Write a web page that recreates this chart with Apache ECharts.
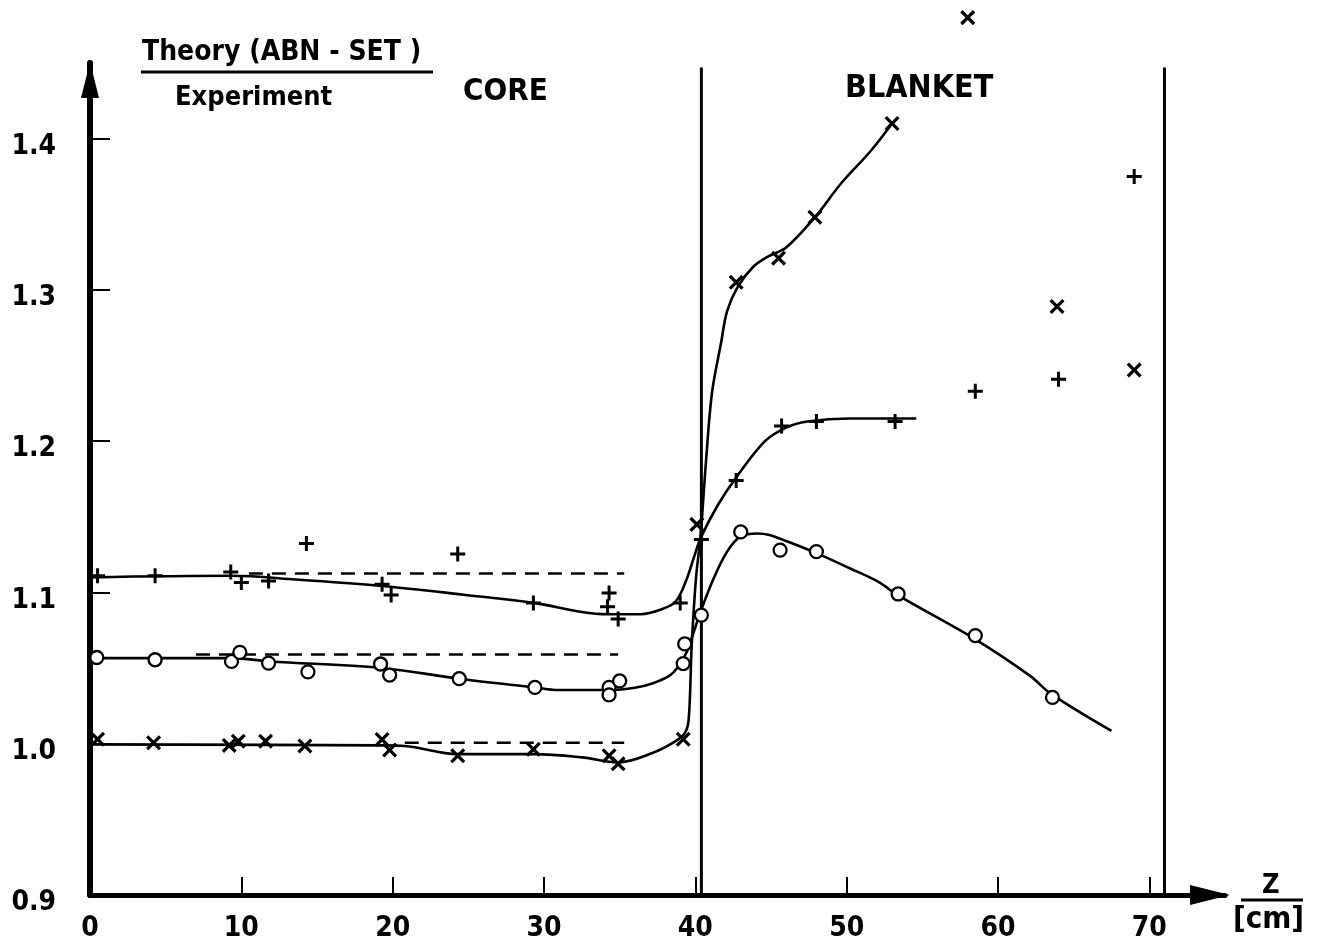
<!DOCTYPE html>
<html><head><meta charset="utf-8">
<script src="https://cdn.jsdelivr.net/npm/echarts@6/dist/echarts.min.js"></script>
<style>html,body{margin:0;padding:0;background:#fff}#c{width:1319px;height:943px}</style>
</head><body><div id="c"></div>
<script>
// ---- axes ----
const xTicks = [0, 10, 20, 30, 40, 50, 60, 70];
const xTickLabels = ['0', '10', '20', '30', '40', '50', '60', '70'];
const yTicks = [0.9, 1.0, 1.1, 1.2, 1.3, 1.4];
const yTickLabels = ['0.9', '1.0', '1.1', '1.2', '1.3', '1.4'];
const boundaries = [40.4, 71];

// ---- measured points: "+" ----
const plusX = [0.5, 4.3, 9.3, 10.0, 11.8, 14.3, 19.3, 19.9, 24.3, 29.3, 34.3, 34.2, 34.9, 39.0, 40.4, 42.7, 45.7, 48.0, 53.2, 58.5, 64.0, 69.0];
const plusY = [1.111, 1.111, 1.1135, 1.1065, 1.1075, 1.1323, 1.1054, 1.0983, 1.1254, 1.0931, 1.0996, 1.0905, 1.0824, 1.093, 1.135, 1.174, 1.210, 1.213, 1.213, 1.233, 1.241, 1.375];
// ---- measured points: "x" ----
const crossX = [0.5, 4.2, 9.2, 9.8, 11.6, 14.2, 19.3, 19.8, 24.3, 29.3, 34.3, 34.9, 39.2, 40.1, 42.7, 45.5, 47.9, 53.0, 58.0, 63.9, 69.0];
const crossY = [1.003, 1.0006, 0.9989, 1.0017, 1.0017, 0.9985, 1.0028, 0.9959, 0.992, 0.9963, 0.992, 0.9867, 1.003, 1.145, 1.305, 1.321, 1.348, 1.410, 1.480, 1.289, 1.247];
// ---- measured points: "o" ----
const circX = [0.45, 4.3, 9.35, 9.9, 11.8, 14.4, 19.2, 19.8, 24.4, 29.4, 34.3, 34.3, 35.0, 39.2, 39.3, 40.4, 43.0, 45.6, 48.0, 53.4, 58.5, 63.6];
const circY = [1.057, 1.0555, 1.0544, 1.0604, 1.0533, 1.0475, 1.0527, 1.0454, 1.043, 1.0372, 1.0372, 1.0323, 1.0415, 1.053, 1.066, 1.085, 1.140, 1.128, 1.127, 1.099, 1.0715, 1.0306];

// ---- fitted curves ----
const plusCurveX = [0, 9.3, 13.6, 19.3, 24.7, 29.3, 32.5, 34.2, 36.4, 37.8, 38.7, 39.4, 39.9, 40.35, 41.5, 42.7, 44.6, 46.0, 47.4, 50.2, 54.6];
const plusCurveY = [1.110, 1.111, 1.1086, 1.1043, 1.0985, 1.0931, 1.0871, 1.0856, 1.0856, 1.089, 1.094, 1.108, 1.123, 1.136, 1.158, 1.176, 1.200, 1.209, 1.213, 1.215, 1.215];
const circCurveX = [0, 9.35, 11.9, 19.2, 24.4, 29.4, 30.9, 34.3, 36.0, 37.2, 38.3, 38.8, 39.4, 39.9, 40.3, 41.2, 42.1, 43.0, 44.1, 44.9, 46.0, 48.0, 50.2, 52.1, 53.4, 58.5, 62.1, 63.5, 67.5];
const circCurveY = [1.0566, 1.0566, 1.0544, 1.0501, 1.043, 1.0372, 1.0355, 1.0355, 1.037, 1.040, 1.045, 1.050, 1.060, 1.074, 1.086, 1.109, 1.127, 1.137, 1.139, 1.138, 1.134, 1.126, 1.116, 1.107, 1.098, 1.069, 1.045, 1.033, 1.0085];
const crossCurveX = [0, 19.3, 20.8, 24.3, 29.3, 32.5, 34.9, 37.2, 38.7, 39.3, 39.56, 39.76, 40.04, 40.35, 40.7, 41.1, 41.7, 42.1, 42.8, 43.8, 44.8, 46.0, 47.9, 49.6, 51.6, 53.0];
const crossCurveY = [0.9996, 0.9989, 0.9985, 0.9931, 0.9931, 0.991, 0.9877, 0.994, 1.0017, 1.007, 1.016, 1.065, 1.109, 1.138, 1.186, 1.232, 1.265, 1.286, 1.302, 1.315, 1.322, 1.328, 1.348, 1.370, 1.392, 1.410];

// ---- dashed reference lines ----
const plusDashX = [10.5, 35.3];  const plusDashY = [1.1125, 1.1125];
const circDashX = [7.0, 34.9];   const circDashY = [1.059, 1.059];
const crossDashX = [20.8, 35.3]; const crossDashY = [1.0006, 1.0006];

const FONT = "'DejaVu Sans Condensed', 'DejaVu Sans', sans-serif";
const pair = (xs, ys) => xs.map((x, i) => [x, ys[i]]);
const PLUS = 'path://M4,0H6V4H10V6H6V10H4V6H0V4H4Z';
const CROSS = 'path://M4.1,0H5.9V4.1H10V5.9H5.9V10H4.1V5.9H0V4.1H4.1Z';
const ARROW = 'path://M5,0L10,20L0,20Z';

const chart = echarts.init(document.getElementById('c'), null, {renderer: 'canvas'});

const curveStyle = {color: '#000', width: 2.6};
const boundarySeries = boundaries.map(b => ({
  type: 'line', data: [[b, 0.9], [b, 1.447]], showSymbol: false, silent: true, z: 1,
  lineStyle: {color: '#000', width: 3}
}));

chart.setOption({
  animation: false,
  backgroundColor: '#fff',
  grid: {left: 90, right: 94, top: 63, bottom: 48},
  xAxis: {
    type: 'value', min: 0, max: 75,
    splitLine: {show: false},
    axisLine: {show: true, lineStyle: {color: '#000', width: 5},
      symbol: ['none', ARROW], symbolSize: [25, 40], symbolOffset: [0, -15]},
    axisTick: {show: true, inside: true, length: 18, lineStyle: {color: '#000', width: 2}, customValues: xTicks},
    axisLabel: {customValues: xTicks, margin: 20, color: '#000', fontFamily: FONT, fontWeight: 'bold', fontSize: 28,
      formatter: v => xTickLabels[xTicks.indexOf(v)]}
  },
  yAxis: {
    type: 'value', min: 0.9, max: 1.45,
    splitLine: {show: false},
    axisLine: {show: true, lineStyle: {color: '#000', width: 6},
      symbol: ['none', ARROW], symbolSize: [18, 40], symbolOffset: [0, -17]},
    axisTick: {show: true, inside: true, length: 20, lineStyle: {color: '#000', width: 2}, customValues: yTicks},
    axisLabel: {customValues: yTicks, margin: 34, color: '#000', fontFamily: FONT, fontWeight: 'bold', fontSize: 28,
      verticalAlign: 'top', lineHeight: 16,
      formatter: v => yTickLabels[yTicks.findIndex(t => Math.abs(t - v) < 1e-9)]}
  },
  graphic: [
    {type: 'text', left: 142, top: 39, style: {text: 'Theory (ABN - SET )', font: "bold 28px " + FONT, fill: '#000'}},
    {type: 'line', shape: {x1: 141, y1: 72, x2: 433, y2: 72}, style: {stroke: '#000', lineWidth: 3}},
    {type: 'text', left: 175, top: 84, style: {text: 'Experiment', font: "bold 27px " + FONT, fill: '#000'}},
    {type: 'text', left: 463, top: 76, style: {text: 'CORE', font: "bold 31px " + FONT, fill: '#000'}},
    {type: 'text', left: 845, top: 73, style: {text: 'BLANKET', font: "bold 32px " + FONT, fill: '#000'}},
    {type: 'text', left: 1262, top: 872, style: {text: 'Z', font: "bold 27px " + FONT, fill: '#000'}},
    {type: 'line', shape: {x1: 1241, y1: 900, x2: 1303, y2: 900}, style: {stroke: '#000', lineWidth: 3}},
    {type: 'text', left: 1233, top: 904, style: {text: '[cm]', font: "bold 31px " + FONT, fill: '#000'}}
  ],
  series: [
    ...boundarySeries,
    {type: 'line', data: pair(plusCurveX, plusCurveY), showSymbol: false, smooth: 0.35, lineStyle: curveStyle, z: 2},
    {type: 'line', data: pair(circCurveX, circCurveY), showSymbol: false, smooth: 0.35, lineStyle: curveStyle, z: 2},
    {type: 'line', data: pair(crossCurveX, crossCurveY), showSymbol: false, smooth: 0.35, lineStyle: curveStyle, z: 2},
    {type: 'line', data: pair(plusDashX, plusDashY), showSymbol: false, lineStyle: {color: '#000', width: 2.4, type: [14, 9]}, z: 2},
    {type: 'line', data: pair(circDashX, circDashY), showSymbol: false, lineStyle: {color: '#000', width: 2.4, type: [14, 9]}, z: 2},
    {type: 'line', data: pair(crossDashX, crossDashY), showSymbol: false, lineStyle: {color: '#000', width: 2.4, type: [14, 9]}, z: 2},
    {type: 'scatter', data: pair(plusX, plusY), symbol: PLUS, symbolSize: 15, clip: false, itemStyle: {color: '#000', opacity: 1}, z: 4},
    {type: 'scatter', data: pair(crossX, crossY), symbol: CROSS, symbolSize: 18, symbolRotate: 45, clip: false, itemStyle: {color: '#000', opacity: 1}, z: 4},
    {type: 'scatter', data: pair(circX, circY), symbol: 'circle', symbolSize: 13, clip: false,
      itemStyle: {color: '#fff', borderColor: '#000', borderWidth: 2.3, opacity: 1}, z: 5}
  ]
});
</script>
</body></html>
